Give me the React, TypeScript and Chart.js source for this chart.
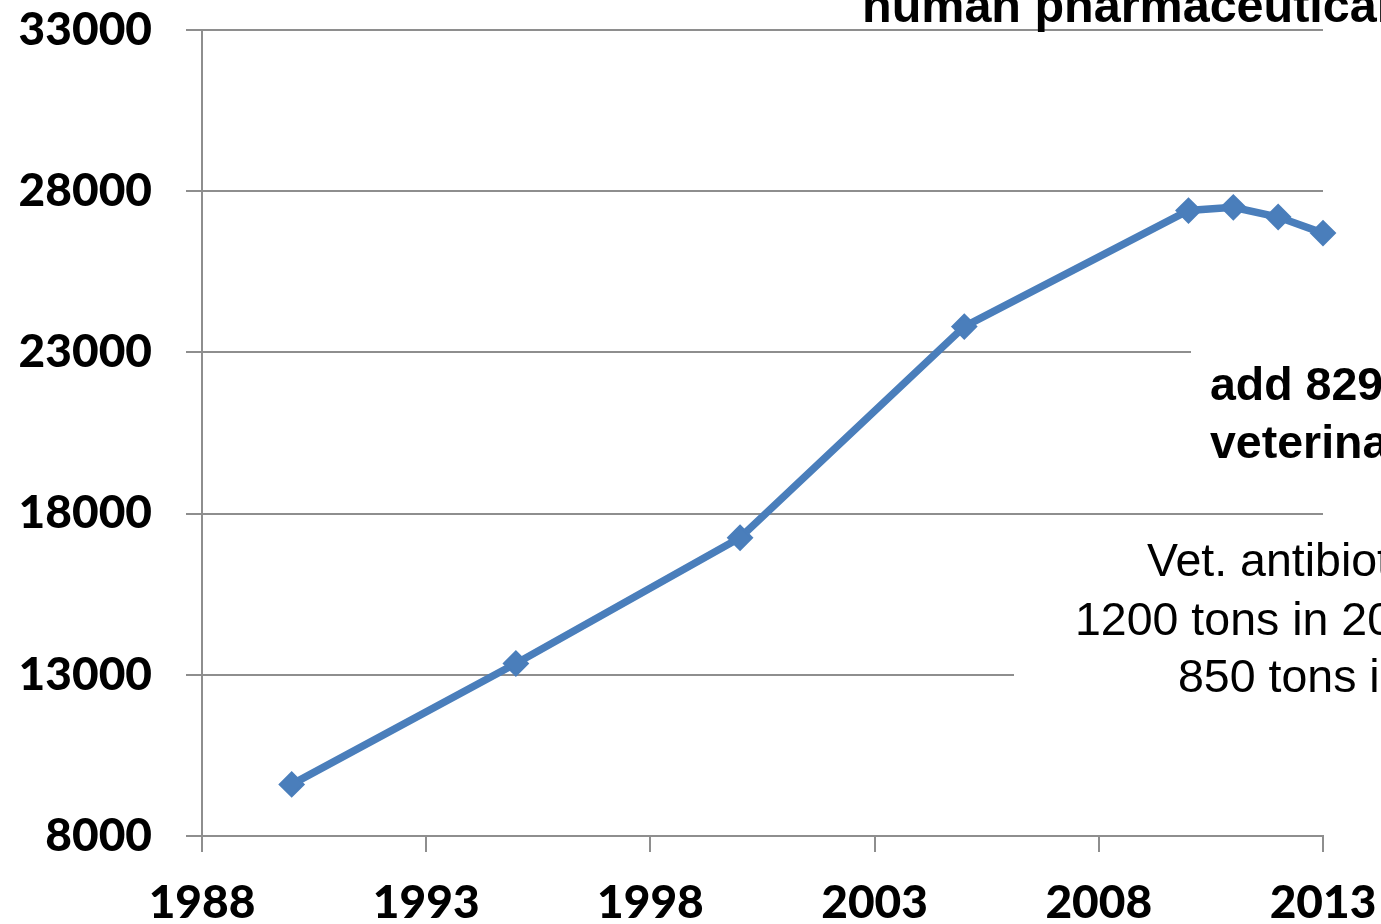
import React, { useEffect, useRef } from "react";
import { Chart, registerables } from "chart.js";

Chart.register(...registerables);

const years = [1990, 1995, 2000, 2005, 2010, 2011, 2012, 2013];
const tons = [9600, 13350, 17250, 23800, 27400, 27500, 27200, 26700];
const yTicks = [8000, 13000, 18000, 23000, 28000, 33000];
const xTicks = [1988, 1993, 1998, 2003, 2008, 2013];

const topNote = ["human pharmaceuticals"];
const vetAddNote = ["add 829 tons of", "veterinary"];
const vetNote = ["Vet. antibiotics:", "1200 tons in 2011", "850 tons in 2013"];

const LINE = "#4A7EBB";
const GRID = "#8e8e8e";

const annotations = {
  id: "annotations",
  beforeDatasetsDraw(chart: any) {
    const ctx = chart.ctx;
    ctx.save();
    ctx.fillStyle = "#ffffff";
    // text boxes with white fill hide gridlines behind them
    ctx.fillRect(1191, 345, 200, 150);
    ctx.fillRect(1014, 528, 380, 190);
    ctx.restore();
  },
  afterDatasetsDraw(chart: any) {
    const ctx = chart.ctx;
    ctx.save();
    ctx.fillStyle = "#000000";
    ctx.textAlign = "left";
    ctx.textBaseline = "alphabetic";
    ctx.font = "bold 48.5px 'Liberation Sans', Arial, sans-serif";
    ctx.fillText(topNote[0], 862, 22);
    ctx.font = "bold 46.5px 'Liberation Sans', Arial, sans-serif";
    ctx.fillText(vetAddNote[0], 1210, 400);
    ctx.fillText(vetAddNote[1], 1210, 458);
    ctx.font = "46.5px 'Liberation Sans', Arial, sans-serif";
    ctx.fillText(vetNote[0], 1147, 576);
    ctx.fillText(vetNote[1], 1075, 635);
    ctx.fillText(vetNote[2], 1178, 692);
    ctx.restore();
  },
};

export default function App() {
  const ref = useRef<HTMLCanvasElement | null>(null);
  useEffect(() => {
    document.body.style.margin = "0";
    const canvas = ref.current!;
    const chart = new Chart(canvas, {
      type: "line",
      data: {
        datasets: [
          {
            data: years.map((y, i) => ({ x: y, y: tons[i] })),
            borderColor: LINE,
            backgroundColor: LINE,
            borderWidth: 7.5,
            pointStyle: "rectRot",
            pointRadius: 12,
            pointBorderWidth: 2,
            pointBackgroundColor: LINE,
            pointBorderColor: LINE,
            tension: 0,
            clip: false,
          } as any,
        ],
      },
      options: {
        responsive: false,
        animation: false,
        events: [],
        layout: { padding: { left: 0, top: 30, right: 58, bottom: 0 } },
        plugins: { legend: { display: false }, tooltip: { enabled: false } },
        scales: {
          x: {
            type: "linear",
            min: 1988,
            max: 2013,
            afterBuildTicks: (s: any) => {
              s.ticks = xTicks.map((v) => ({ value: v }));
            },
            afterFit: (s: any) => {
              s.height = 88;
              s.paddingLeft = 0;
              s.paddingRight = 0;
            },
            grid: {
              drawOnChartArea: false,
              drawTicks: true,
              tickLength: 16,
              color: GRID,
              lineWidth: 2,
            },
            border: { display: true, color: GRID, width: 2 },
            ticks: {
              color: "#000",
              padding: 24,
              maxRotation: 0,
              autoSkip: false,
              font: { family: "Lato, 'Open Sans', sans-serif", size: 46, weight: "900" },
              callback: (v: any) => String(v),
            },
          },
          y: {
            type: "linear",
            min: 8000,
            max: 33000,
            afterBuildTicks: (s: any) => {
              s.ticks = yTicks.map((v) => ({ value: v }));
            },
            afterFit: (s: any) => {
              s.width = 202;
              s.paddingTop = 0;
              s.paddingBottom = 0;
            },
            grid: {
              drawTicks: true,
              tickLength: 16,
              color: GRID,
              lineWidth: 2,
            },
            border: { display: true, color: GRID, width: 2 },
            ticks: {
              color: "#000",
              padding: 34,
              autoSkip: false,
              font: { family: "Lato, 'Open Sans', sans-serif", size: 46, weight: "900" },
              callback: (v: any) => String(v),
            },
          },
        },
      },
      plugins: [annotations],
    });
    return () => chart.destroy();
  }, []);
  return (
    <div style={{ position: "fixed", left: 0, top: 0, width: 1381, height: 924 }}>
      <canvas ref={ref} width={1381} height={924} style={{ width: 1381, height: 924, display: "block" }} />
    </div>
  );
}
